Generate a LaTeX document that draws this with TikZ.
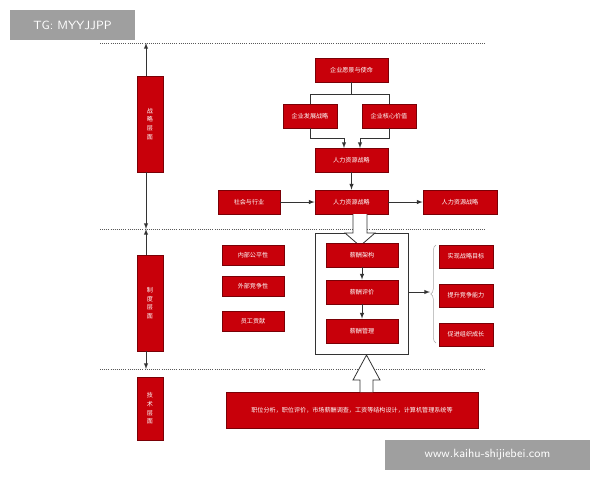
\documentclass[tikz,border=0pt]{standalone}
\usepackage{fontspec}
\setmainfont{Noto Sans CJK SC}
\usetikzlibrary{positioning,decorations.pathreplacing}
\definecolor{boxred}{HTML}{C8000A}
\definecolor{boxedge}{HTML}{7A0006}
\tikzset{
  redbox/.style={draw=boxedge, fill=boxred, text=white, line width=0.6pt, inner sep=0pt,
    font=\fontsize{4.6}{5.5}\selectfont},
  levelbox/.style={redbox, align=center, font=\fontsize{4.6}{6.5}\selectfont},
  sep line/.style={densely dotted, line width=0.6pt, gray!70!black},
  link/.style={-latex, line width=0.5pt, black!80},
  hollow/.style={draw=black!80, fill=white, line width=0.6pt},
  tag/.style={fill=gray!75, text=white, inner sep=0pt, font=\fontsize{9}{10}\selectfont\sffamily}
}
\begin{document}
\begin{tikzpicture}[x=0.0265cm, y=-0.0265cm]
  \useasboundingbox (0,0) rectangle (600,480);

  % separators
  \foreach \yy in {43,229,369} {
    \draw[sep line] (100,\yy) -- (485,\yy);
  }

  % level bars
  \node[levelbox, minimum width=26*0.0265cm, minimum height=96*0.0265cm] (lvA) at (150,124) {战\\略\\层\\面};
  \node[levelbox, minimum width=26*0.0265cm, minimum height=96*0.0265cm] (lvB) at (150,303) {制\\度\\层\\面};
  \node[levelbox, minimum width=26*0.0265cm, minimum height=63*0.0265cm] (lvC) at (150,408.5) {技\\术\\层\\面};
  \coordinate (tA) at (146,43);
  \coordinate (mA) at (146,229);
  \coordinate (bB) at (146,369);
  \draw[link] (lvA.north -| tA) -- (tA);
  \draw[link] (lvA.south -| mA) -- (mA);
  \draw[link] (lvB.north -| mA) -- (mA);
  \draw[link] (lvB.south -| bB) -- (bB);

  % strategy level
  \node[redbox, minimum width=73*0.0265cm, minimum height=24*0.0265cm] (vision) at (351.5,70) {企业愿景与使命};
  \node[redbox, minimum width=54*0.0265cm, minimum height=24*0.0265cm] (devel) at (310,116) {企业发展战略};
  \node[redbox, minimum width=54*0.0265cm, minimum height=24*0.0265cm] (core) at (389,116) {企业核心价值};
  \node[redbox, minimum width=73*0.0265cm, minimum height=24*0.0265cm] (hrA) at (351.5,160) {人力资源战略};
  \node[redbox, minimum width=62*0.0265cm, minimum height=24*0.0265cm] (society) at (249,202) {社会与行业};
  \node[redbox, minimum width=73*0.0265cm, minimum height=24*0.0265cm] (hrB) at (351.5,202) {人力资源战略};
  \node[redbox, minimum width=74*0.0265cm, minimum height=24*0.0265cm] (hrC) at (460,202) {人力资源战略};

  \draw[line width=0.5pt, black!80] (vision.south) -- ++(0,12) -| (devel.north);
  \draw[line width=0.5pt, black!80] (vision.south) ++(0,12) -| (core.north);
  \draw[link] (devel.south) |- (344,138) -- (344,148);
  \draw[link] (core.south) |- (360,138) -- (360,148);
  \draw[link] (hrA) -- (hrB);
  \draw[link] (society) -- (hrB);
  \draw[link] (hrB) -- (hrC);

  % system level
  \draw[hollow] (315,233) rectangle (408,354);
  \draw[hollow] (353,214) -- (353,233) -- (345,233) -- (360,246) -- (375,233) -- (367,233) -- (367,214);
  \node[redbox, minimum width=72*0.0265cm, minimum height=24*0.0265cm] (payA) at (362,255) {薪酬架构};
  \node[redbox, minimum width=72*0.0265cm, minimum height=24*0.0265cm] (payB) at (362,292) {薪酬评价};
  \node[redbox, minimum width=72*0.0265cm, minimum height=24*0.0265cm] (payC) at (362,331) {薪酬管理};
  \draw[link] (payA) -- (payB);
  \draw[link] (payB) -- (payC);

  \node[redbox, minimum width=62*0.0265cm, minimum height=20*0.0265cm] (fairIn) at (253,255) {内部公平性};
  \node[redbox, minimum width=62*0.0265cm, minimum height=20*0.0265cm] (fairOut) at (253,286) {外部竞争性};
  \node[redbox, minimum width=62*0.0265cm, minimum height=20*0.0265cm] (staff) at (253,321) {员工贡献};

  \node[redbox, minimum width=54*0.0265cm, minimum height=23*0.0265cm] (goalA) at (466,256.5) {实现战略目标};
  \node[redbox, minimum width=54*0.0265cm, minimum height=23*0.0265cm] (goalB) at (466,295.5) {提升竞争能力};
  \node[redbox, minimum width=54*0.0265cm, minimum height=23*0.0265cm] (goalC) at (466,334.5) {促进组织成长};
  \draw[decorate, decoration={brace, amplitude=4pt}, line width=0.4pt, gray!70] (436,343) -- (436,245);
  \coordinate (braceTip) at (430,292);
  \draw[link] (408,292) -- (braceTip);

  % technique level
  \node[redbox, minimum width=252*0.0265cm, minimum height=36*0.0265cm] (tech) at (352,410) {职位分析，职位评价，市场薪酬调查，工资等结构设计，计算机管理系统等};
  \draw[hollow] (360,392) -- (360,380) -- (353,380) -- (366.5,355) -- (380,380) -- (373,380) -- (373,392);

  % tags
  \node[tag, minimum width=125*0.0265cm, minimum height=30*0.0265cm] (tagA) at (72.5,25) {TG: MYYJJPP};
  \node[tag, minimum width=205*0.0265cm, minimum height=30*0.0265cm] (tagB) at (487.5,455) {www.kaihu-shijiebei.com};
\end{tikzpicture}
\end{document}
